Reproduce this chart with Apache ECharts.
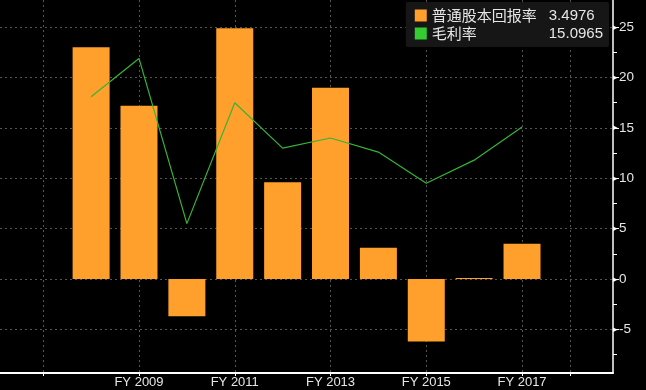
<!DOCTYPE html>
<html><head><meta charset="utf-8">
<script src="https://cdn.jsdelivr.net/npm/echarts@6/dist/echarts.min.js"></script>
<style>html,body{margin:0;padding:0;background:#000;}#c{width:646px;height:390px;}</style>
</head><body><div id="c"></div>
<script>
var years = [2008, 2009, 2010, 2011, 2012, 2013, 2014, 2015, 2016, 2017];
var roe = [23.0, 17.2, -3.7, 24.9, 9.6, 19.0, 3.1, -6.2, 0.1, 3.4976];
var grossMargin = [18.1, 21.9, 5.5, 17.5, 13.0, 14.0, 12.6, 9.5, 11.8, 15.0965];
var seriesNames = ['普通股本回报率', '毛利率'];
var lastValues = ['3.4976', '15.0965'];
var xLabelYears = [2009, 2011, 2013, 2015, 2017];
var xGridYears = [2007, 2009, 2011, 2013, 2015, 2017, 2018];
var yTicks = [-5, 0, 5, 10, 15, 20, 25];
var yMinorTicks = [-7.5, -2.5, 2.5, 7.5, 12.5, 17.5, 22.5];

var chart = echarts.init(document.getElementById('c'));
var yMin = -9.33, yMax = 27.7;
chart.setOption({
  backgroundColor: '#000',
  animation: false,
  grid: {left: 0, right: 33, top: 0, bottom: 17},
  legend: {
    orient: 'vertical', right: 37, top: 2,
    backgroundColor: '#161616', borderRadius: 2,
    padding: [6, 6, 6, 9], itemGap: 3,
    itemWidth: 12, itemHeight: 12, icon: 'rect',
    data: seriesNames,
    formatter: function (n) {
      var i = seriesNames.indexOf(n);
      return '{n|' + n + '}{v|' + lastValues[i] + '}';
    },
    textStyle: {
      color: '#e6e6e6',
      rich: {
        n: {width: 117, fontSize: 15, fontFamily: 'Noto Sans CJK SC', color: '#e6e6e6'},
        v: {width: 48, fontSize: 15, fontFamily: 'Liberation Sans', color: '#e6e6e6'}
      }
    }
  },
  xAxis: {
    type: 'value', min: 2006.097, max: 2018.9,
    axisLine: {show: true, onZero: false, lineStyle: {color: '#fff', width: 2}},
    axisTick: {show: true, customValues: xGridYears, length: 3, lineStyle: {color: '#fff'}},
    axisLabel: {customValues: xLabelYears, color: '#e6e6e6', fontSize: 13, fontFamily: 'Liberation Sans', margin: 3,
      formatter: function (v) { return 'FY ' + v; }},
    splitLine: {show: true, lineStyle: {color: '#555', type: [2, 3], width: 1}}
  },
  yAxis: [{
    type: 'value', position: 'right', min: yMin, max: yMax,
    axisLine: {show: true, lineStyle: {color: '#fff', width: 1.5}},
    axisTick: {show: true, customValues: yTicks, length: 6, lineStyle: {color: '#fff'}},
    axisLabel: {customValues: yTicks, color: '#e6e6e6', fontSize: 13.5, fontFamily: 'Liberation Sans', margin: 0,
      formatter: function (v) { return '{t|▸}' + v; },
      rich: {t: {fontSize: 9, color: '#fff', padding: [0, 1, 0, 0]}}},
    splitLine: {show: true, lineStyle: {color: '#555', type: [2, 3], width: 1}}
  }, {
    type: 'value', position: 'right', min: yMin, max: yMax,
    axisLine: {show: false},
    axisTick: {show: true, customValues: yMinorTicks, length: 4, lineStyle: {color: '#fff'}},
    axisLabel: {show: false},
    splitLine: {show: false}
  }],
  series: [{
    name: seriesNames[0], type: 'bar', barWidth: 37,
    itemStyle: {color: '#FF9F2C'},
    data: years.map(function (y, i) { return [y, roe[i]]; })
  }, {
    name: seriesNames[1], type: 'line', symbol: 'none',
    itemStyle: {color: '#33CC33'},
    lineStyle: {color: '#35B535', width: 1.2},
    data: years.map(function (y, i) { return [y, grossMargin[i]]; })
  }]
});
</script></body></html>
